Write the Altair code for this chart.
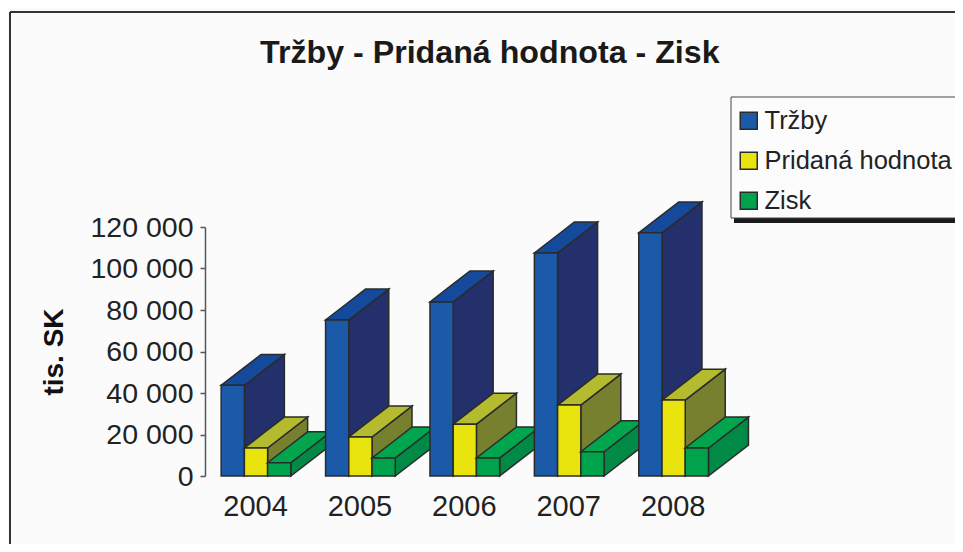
import altair as alt
import pandas as pd

years = [2004, 2005, 2006, 2007, 2008]
series = ["Tržby", "Pridaná hodnota", "Zisk"]
trzby = [43700, 75200, 83900, 107500, 117200]
pridana = [13500, 18800, 25000, 34200, 36600]
zisk = [6400, 8700, 8700, 11700, 13500]
values = {"Tržby": trzby, "Pridaná hodnota": pridana, "Zisk": zisk}

front_colors = ["#1b5aa8", "#e9e40e", "#00a24b"]
top_colors = ["#14499c", "#b5bb2e", "#00a54d"]
side_colors = ["#23306b", "#76802f", "#008a45"]

FONT = "Liberation Sans"
BAR_W = 0.2225      # bar width in category units
DEPTH_X = 0.383     # 3-D depth in category units
DEPTH_Y = 14900     # 3-D depth in value units
PW, PH = 750, 249   # plot area
DOMAIN_X = [2003.5115, 2010.695]

rows = []
for year_i, year in enumerate(years):
    for s_i, s in enumerate(series):
        v = values[s][year_i]
        a = year + (s_i - 1.5) * BAR_W
        b = a + BAR_W
        pid = f"{year}-{s_i}"
        # back side face
        for x, lo, hi in [(b, 0, v), (b + DEPTH_X, DEPTH_Y, v + DEPTH_Y)]:
            rows.append(dict(poly=pid + "-a", face=s + " bok", x=x, lo=lo, hi=hi))
        # top face
        slope = DEPTH_Y / DEPTH_X
        for x, lo, hi in [
            (a, v, v),
            (b, v, v + BAR_W * slope),
            (a + DEPTH_X, v + (DEPTH_X - BAR_W) * slope, v + DEPTH_Y),
            (b + DEPTH_X, v + DEPTH_Y, v + DEPTH_Y),
        ]:
            rows.append(dict(poly=pid + "-b", face=s + " vrch", x=x, lo=lo, hi=hi))
        # front face
        for x in (a, b):
            rows.append(dict(poly=pid + "-c", face=s, x=x, lo=0, hi=v))

df = pd.DataFrame(rows)

color_domain = series + [s + " vrch" for s in series] + [s + " bok" for s in series]
color_range = front_colors + top_colors + side_colors

bars = alt.Chart(df).mark_area(
    orient="vertical", stroke="#2b2b2b", strokeWidth=1.5, clip=False, opacity=1
).encode(
    x=alt.X(
        "x:Q",
        scale=alt.Scale(domain=DOMAIN_X, nice=False, zero=False),
        axis=alt.Axis(
            values=years, format="d", title=None, domain=False, ticks=False, grid=False,
            labelFontSize=29, labelFont=FONT, labelColor="#222", labelPadding=16,
            labelOffset=-1, labelFlush=False, labelOverlap=False,
        ),
    ),
    y=alt.Y(
        "lo:Q",
        scale=alt.Scale(domain=[0, 120000], nice=False),
        axis=alt.Axis(
            values=[0, 20000, 40000, 60000, 80000, 100000, 120000],
            labelExpr="replace(format(datum.value, ','), ',', ' ')",
            title="tis. SK", titleFont=FONT, titleFontSize=28, titleFontWeight="bold",
            titleColor="#111", titlePadding=21,
            domainColor="#555", domainWidth=1.5, tickColor="#555", tickWidth=1.5, tickSize=5,
            grid=False, labelFontSize=28.5, labelFont=FONT, labelColor="#222", labelPadding=7,
        ),
    ),
    y2="hi:Q",
    detail="poly:N",
    color=alt.Color(
        "face:N",
        scale=alt.Scale(domain=color_domain, range=color_range),
        legend=alt.Legend(
            values=series, title=None, orient="none", legendX=523, legendY=-127,
            symbolType="square", symbolSize=289, symbolStrokeWidth=1.5,
            labelFont=FONT, labelFontSize=25.5, labelColor="#222", labelLimit=400,
            rowPadding=13, padding=8, labelOffset=3,
            symbolStrokeColor="#2b2b2b",
        ),
    ),
)

one = pd.DataFrame({"k": [0]})
frame_top = alt.Chart(one).mark_rule(color="#333", strokeWidth=2).encode(
    x=alt.value(-195), x2=alt.value(PW), y=alt.value(-215)
)
frame_left = alt.Chart(one).mark_rule(color="#333", strokeWidth=2).encode(
    x=alt.value(-195), y=alt.value(-215), y2=alt.value(320)
)
shadow = alt.Chart(one).mark_rule(color="#1a1a1a", strokeWidth=5).encode(
    x=alt.value(529), x2=alt.value(PW), y=alt.value(-6.5)
)
legend_box = alt.Chart(one).mark_rect(fill="#fcfcfc", stroke="#444", strokeWidth=1).encode(
    x=alt.value(526), x2=alt.value(PW + 6), y=alt.value(-130), y2=alt.value(-9)
)

chart = (
    alt.layer(frame_top, frame_left, bars, shadow, legend_box)
    .properties(
        width=PW,
        height=PH,
        background="#fbfbfb",
        padding={"left": 197, "top": 219, "right": 0, "bottom": 68},
        autosize=alt.AutoSizeParams(type="none"),
        title=alt.TitleParams(
            "Tržby - Pridaná hodnota - Zisk", font=FONT, fontSize=32.2, fontWeight="bold",
            color="#1a1a1a", anchor="start", dx=251, offset=0, dy=59,
        ),
    )
    .configure_view(stroke=None)
)

chart.save("out.html", embed_options={"renderer": "svg", "actions": False})
